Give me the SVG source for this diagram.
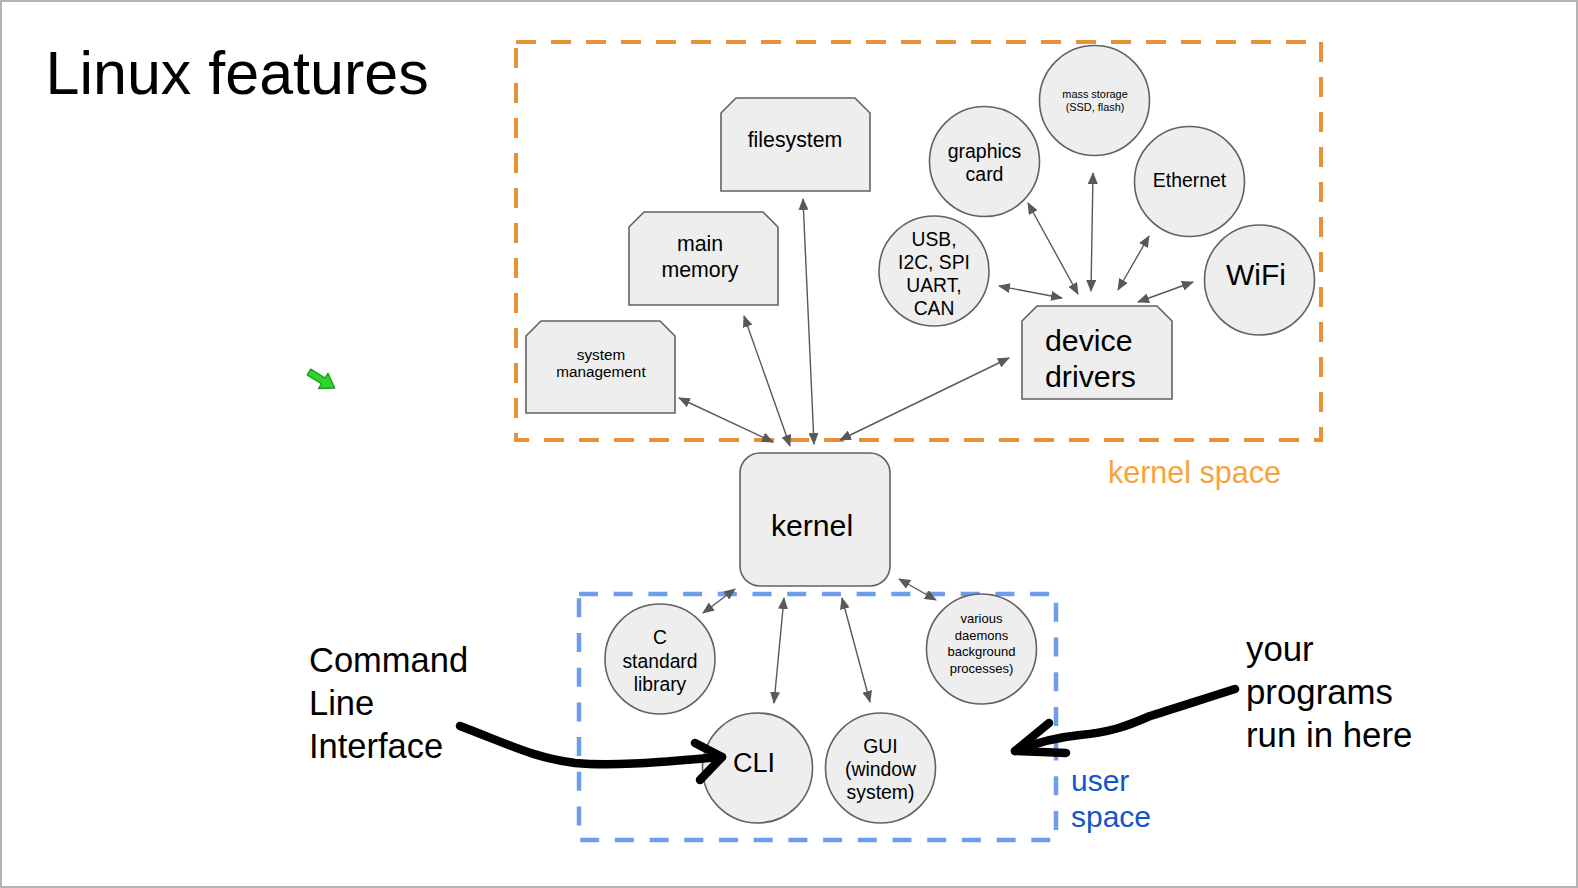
<svg xmlns="http://www.w3.org/2000/svg" width="1578" height="888" viewBox="0 0 1578 888">
<defs>
<style>
text{font-family:"Liberation Sans",Arial,sans-serif;fill:#000}
.node{fill:#eeeeee;stroke:#626262;stroke-width:1.6}
.conn{stroke:#595959;stroke-width:1.4;fill:none;marker-start:url(#ah);marker-end:url(#ah)}
.hand{stroke:#000;stroke-width:8.5;fill:none;stroke-linecap:round;stroke-linejoin:round}
.c{text-anchor:middle}
</style>
<marker id="ah" viewBox="0 0 12 10" refX="11" refY="5" markerWidth="12" markerHeight="10" markerUnits="userSpaceOnUse" orient="auto-start-reverse">
<path d="M0,0 L12,5 L0,10 Z" fill="#595959"/>
</marker>
</defs>
<rect x="0" y="0" width="1578" height="888" fill="#fff"/>
<rect x="1" y="1" width="1576" height="886" fill="none" stroke="#b4b4b4" stroke-width="2"/>

<text x="45.5" y="94" font-size="61">Linux features</text>

<g id="kernel-space">
<rect x="516" y="42" width="805" height="398" fill="none" stroke="#e69138" stroke-width="4" stroke-dasharray="20 15"/>
<text x="1108" y="483" font-size="30.5" style="fill:#f6a33c">kernel space</text>
</g>
<g id="user-space">
<rect x="579" y="594" width="477" height="246" fill="none" stroke="#6d9eeb" stroke-width="4.5" stroke-dasharray="19 15.7"/>
<text x="1071" y="791" font-size="30" style="fill:#1155cc">user</text>
<text x="1071" y="827" font-size="30" style="fill:#1155cc">space</text>
</g>

<g id="connectors">
<line class="conn" x1="679" y1="398" x2="773" y2="442"/>
<line class="conn" x1="744" y1="316" x2="790" y2="446"/>
<line class="conn" x1="803" y1="199" x2="814" y2="444"/>
<line class="conn" x1="1009" y1="358" x2="840" y2="440"/>
<line class="conn" x1="999" y1="286" x2="1062" y2="298"/>
<line class="conn" x1="1028" y1="203" x2="1078" y2="294"/>
<line class="conn" x1="1093" y1="173" x2="1091" y2="291"/>
<line class="conn" x1="1149" y1="236" x2="1118" y2="290"/>
<line class="conn" x1="1193" y1="282" x2="1138" y2="302"/>
<line class="conn" x1="735" y1="589" x2="703" y2="613"/>
<line class="conn" x1="784" y1="598" x2="774" y2="703"/>
<line class="conn" x1="842" y1="598" x2="870" y2="702"/>
<line class="conn" x1="899" y1="579" x2="936" y2="600"/>
</g>

<g id="filesystem">
<path class="node" d="M721,113 L736,98 L855,98 L870,113 L870,191 L721,191 Z"/>
<text class="c" x="795" y="147" font-size="21.3">filesystem</text>
</g>
<g id="main-memory">
<path class="node" d="M629,227 L644,212 L763,212 L778,227 L778,305 L629,305 Z"/>
<text class="c" x="700" y="251" font-size="21.3">main</text>
<text class="c" x="700" y="277" font-size="21.3">memory</text>
</g>
<g id="system-management">
<path class="node" d="M526,336 L541,321 L660,321 L675,336 L675,413 L526,413 Z"/>
<text class="c" x="601" y="360" font-size="15.3">system</text>
<text class="c" x="601" y="377" font-size="15.3">management</text>
</g>
<g id="device-drivers">
<path class="node" d="M1022,321 L1037,306 L1157,306 L1172,321 L1172,399 L1022,399 Z"/>
<text x="1045" y="351" font-size="30.3">device</text>
<text x="1045" y="387" font-size="30.3">drivers</text>
</g>
<g id="usb">
<circle class="node" cx="934" cy="271" r="55"/>
<text class="c" x="934" y="246" font-size="19.3">USB,</text>
<text class="c" x="934" y="269" font-size="19.3">I2C, SPI</text>
<text class="c" x="934" y="292" font-size="19.3">UART,</text>
<text class="c" x="934" y="315" font-size="19.3">CAN</text>
</g>
<g id="graphics-card">
<circle class="node" cx="984.5" cy="161.5" r="55"/>
<text class="c" x="984.5" y="158" font-size="19.5">graphics</text>
<text class="c" x="984.5" y="181" font-size="19.5">card</text>
</g>
<g id="mass-storage">
<circle class="node" cx="1094.5" cy="100.5" r="55"/>
<text class="c" x="1095" y="98" font-size="10.9">mass storage</text>
<text class="c" x="1095" y="111" font-size="10.9">(SSD, flash)</text>
</g>
<g id="ethernet">
<circle class="node" cx="1189.5" cy="181.5" r="55"/>
<text class="c" x="1189.5" y="187" font-size="19.4">Ethernet</text>
</g>
<g id="wifi">
<circle class="node" cx="1259.5" cy="280" r="55"/>
<text class="c" x="1256" y="285" font-size="30">WiFi</text>
</g>
<g id="kernel">
<rect class="node" x="740" y="453" width="150" height="133" rx="20" ry="20"/>
<text class="c" x="812" y="536" font-size="30.2">kernel</text>
</g>
<g id="c-library">
<circle class="node" cx="660" cy="659" r="55"/>
<text class="c" x="660" y="644" font-size="19.3">C</text>
<text class="c" x="660" y="668" font-size="19.3">standard</text>
<text class="c" x="660" y="691" font-size="19.3">library</text>
</g>
<g id="daemons">
<circle class="node" cx="981.5" cy="649" r="55"/>
<text class="c" x="981.5" y="623" font-size="13">various</text>
<text class="c" x="981.5" y="639.5" font-size="13">daemons</text>
<text class="c" x="981.5" y="656" font-size="13">background</text>
<text class="c" x="981.5" y="672.5" font-size="13">processes)</text>
</g>
<g id="cli">
<circle class="node" cx="757.5" cy="768" r="55"/>
<text class="c" x="754" y="772" font-size="27">CLI</text>
</g>
<g id="gui">
<circle class="node" cx="880.5" cy="768" r="55"/>
<text class="c" x="880.5" y="753" font-size="19.4">GUI</text>
<text class="c" x="880.5" y="776" font-size="19.4">(window</text>
<text class="c" x="880.5" y="799" font-size="19.4">system)</text>
</g>

<g id="cli-annotation">
<text x="309" y="672" font-size="34.5">Command</text>
<text x="309" y="715" font-size="34.5">Line</text>
<text x="309" y="758" font-size="34.5">Interface</text>
<path class="hand" d="M460,726 C510,745 535,758 575,763 C620,767 680,760 722,757"/>
<path class="hand" d="M695,743 L722,757 L700,780"/>
</g>
<g id="programs-annotation">
<text x="1246" y="661" font-size="34.8">your</text>
<text x="1246" y="704" font-size="34.8">programs</text>
<text x="1246" y="747" font-size="34.8">run in here</text>
<path class="hand" d="M1235,689 C1200,700 1170,710 1150,716 C1125,727 1110,732 1080,735 C1050,738 1030,745 1015,751"/>
<path class="hand" d="M1049,723 L1015,751 L1066,753"/>
</g>

<g id="green-arrow" transform="translate(309,372) rotate(32) scale(1.12)">
<path d="M0,-3 L15,-3 L15,-8 L27,0 L15,8 L15,3 L0,3 Z" fill="#2fd42f" stroke="#1b9a1b" stroke-width="1.2" stroke-linejoin="round"/>
</g>
</svg>
